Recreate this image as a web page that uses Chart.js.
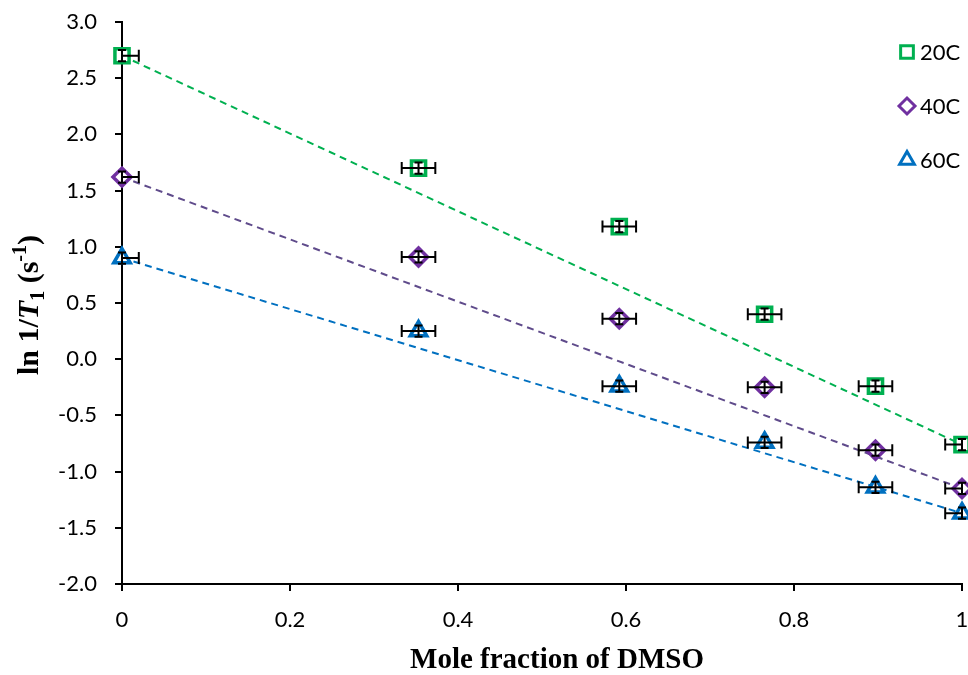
<!DOCTYPE html>
<html>
<head>
<meta charset="utf-8">
<script src="https://cdn.jsdelivr.net/npm/chart.js@4.4.0/dist/chart.umd.min.js"></script>
<style>
  html, body { margin: 0; padding: 0; background: #fff; }
</style>
</head>
<body>
<canvas id="chart" width="968" height="675"></canvas>
<script>
// Datos
const moleFraction = [0, 0.353, 0.592, 0.765, 0.897, 1.0];
const series20 = [2.70, 1.70, 1.18, 0.40, -0.24, -0.76];
const series40 = [1.62, 0.91, 0.36, -0.25, -0.81, -1.15];
const series60 = [0.90, 0.25, -0.24, -0.74, -1.14, -1.37];
const seriesLabels = ['20C', '40C', '60C'];

// Líneas de tendencia (extremos en x = 0 y x = 1)
const trendX = [0, 1];
const trend20 = [2.70, -0.76];
const trend40 = [1.62, -1.15];
const trend60 = [0.90, -1.37];

// Barras de error
const xErr = 0.02;
const yErr = 0.05;

const colors = ['#00B050', '#7030A0', '#0070C0'];
const trendColors = ['#00B050', '#5F4B8B', '#0070C0'];
const styles = ['rect', 'rectRot', 'triangle'];
const radii = [10, 9, 9.5];

function toPoints(xs, ys) {
  return xs.map((x, i) => ({ x: x, y: ys[i] }));
}

const allSeries = [series20, series40, series60];
const allTrends = [trend20, trend40, trend60];

const datasets = [];
allSeries.forEach((s, i) => {
  datasets.push({
    type: 'scatter',
    label: seriesLabels[i],
    data: toPoints(moleFraction, s),
    pointStyle: styles[i],
    pointRadius: radii[i],
    pointBorderWidth: 3.5,
    borderColor: colors[i],
    backgroundColor: '#ffffff',
    errorBars: true,
    clip: false,
    order: 0
  });
});
allTrends.forEach((t, i) => {
  datasets.push({
    type: 'line',
    label: 'trend ' + seriesLabels[i],
    data: toPoints(trendX, t),
    borderColor: trendColors[i],
    borderWidth: 2,
    borderDash: [7, 5],
    pointRadius: 0,
    fill: false,
    order: 1
  });
});

// Barras de error horizontales y verticales (recortadas a 0..1)
const errorBarPlugin = {
  id: 'errorBars',
  afterDatasetsDraw(chart) {
    const ctx = chart.ctx;
    const xs = chart.scales.x;
    const ys = chart.scales.y;
    ctx.save();
    ctx.strokeStyle = '#000';
    ctx.lineWidth = 2;
    chart.data.datasets.forEach(ds => {
      if (!ds.errorBars) return;
      ds.data.forEach(p => {
        const cx = xs.getPixelForValue(p.x);
        const cy = ys.getPixelForValue(p.y);
        const lo = p.x - xErr, hi = p.x + xErr;
        const x1 = xs.getPixelForValue(Math.max(lo, 0));
        const x2 = xs.getPixelForValue(Math.min(hi, 1));
        const y1 = ys.getPixelForValue(p.y - yErr);
        const y2 = ys.getPixelForValue(p.y + yErr);
        ctx.beginPath();
        ctx.moveTo(x1, cy); ctx.lineTo(x2, cy);
        if (lo >= 0) { ctx.moveTo(x1, cy - 6); ctx.lineTo(x1, cy + 6); }
        if (hi <= 1) { ctx.moveTo(x2, cy - 6); ctx.lineTo(x2, cy + 6); }
        ctx.moveTo(cx, y1); ctx.lineTo(cx, y2);
        ctx.moveTo(cx - 4, y1); ctx.lineTo(cx + 4, y1);
        ctx.moveTo(cx - 4, y2); ctx.lineTo(cx + 4, y2);
        ctx.stroke();
      });
    });
    ctx.restore();
  }
};

// Leyenda y títulos de ejes
const labelsPlugin = {
  id: 'customLabels',
  afterDraw(chart) {
    const ctx = chart.ctx;
    ctx.save();
    // leyenda
    const legendY = [52, 106, 160];
    seriesLabels.forEach((lab, i) => {
      ctx.strokeStyle = colors[i];
      ctx.fillStyle = '#ffffff';
      ctx.lineWidth = 3;
      Chart.helpers.drawPoint(ctx, { pointStyle: styles[i], radius: radii[i] - 1, borderWidth: 3 }, 907, legendY[i]);
      ctx.fillStyle = '#000';
      ctx.font = '22px Lato';
      ctx.textAlign = 'left';
      ctx.textBaseline = 'middle';
      ctx.fillText(lab, 920, legendY[i] + 1);
    });

    // título eje x
    ctx.fillStyle = '#000';
    ctx.font = 'bold 29px "Liberation Serif"';
    ctx.textAlign = 'center';
    ctx.textBaseline = 'alphabetic';
    ctx.fillText('Mole fraction of DMSO', 557, 668);

    // título eje y: ln 1/T1 (s-1)
    const parts = [
      { t: 'ln 1/', f: 'bold 30px "Liberation Serif"', dy: 0 },
      { t: 'T', f: 'bold italic 30px "Liberation Serif"', dy: 0 },
      { t: '1', f: 'bold 20px "Liberation Serif"', dy: 6 },
      { t: ' (s', f: 'bold 30px "Liberation Serif"', dy: 0 },
      { t: '-1', f: 'bold 20px "Liberation Serif"', dy: -12 },
      { t: ')', f: 'bold 30px "Liberation Serif"', dy: 0 }
    ];
    let total = 0;
    parts.forEach(p => { ctx.font = p.f; p.w = ctx.measureText(p.t).width; total += p.w; });
    ctx.translate(38, 305);
    ctx.rotate(-Math.PI / 2);
    ctx.textAlign = 'left';
    let x = -total / 2;
    parts.forEach(p => {
      ctx.font = p.f;
      ctx.fillText(p.t, x, p.dy);
      x += p.w;
    });
    ctx.restore();
  }
};

const ctx = document.getElementById('chart').getContext('2d');
const chart = new Chart(ctx, {
  data: { datasets: datasets },
  options: {
    responsive: false,
    animation: false,
    layout: { autoPadding: false, padding: { left: 0, right: 6, top: 22, bottom: 0 } },
    plugins: {
      legend: { display: false },
      tooltip: { enabled: false }
    },
    scales: {
      x: {
        type: 'linear',
        min: 0,
        max: 1,
        afterFit(scale) {
          scale.height = 91;
          scale.paddingLeft = 0;
          scale.paddingRight = 0;
        },
        border: { display: true, color: '#000', width: 2 },
        grid: { drawOnChartArea: false, drawTicks: true, tickLength: 7, color: '#000', lineWidth: 2 },
        ticks: {
          stepSize: 0.2,
          padding: 16,
          color: '#000',
          font: { family: 'Lato', size: 22 },
          callback: v => (v === 0 ? '0' : (Math.abs(v - 1) < 1e-9 ? '1' : v.toFixed(1)))
        }
      },
      y: {
        type: 'linear',
        min: -2,
        max: 3,
        afterFit(scale) {
          scale.width = 122;
          scale.paddingTop = 0;
          scale.paddingBottom = 0;
        },
        border: { display: true, color: '#000', width: 2 },
        grid: { drawOnChartArea: false, drawTicks: true, tickLength: 7, color: '#000', lineWidth: 2 },
        ticks: {
          stepSize: 0.5,
          padding: 18,
          color: '#000',
          font: { family: 'Lato', size: 22 },
          callback: v => v.toFixed(1)
        }
      }
    }
  },
  plugins: [errorBarPlugin, labelsPlugin]
});
</script>
</body>
</html>
